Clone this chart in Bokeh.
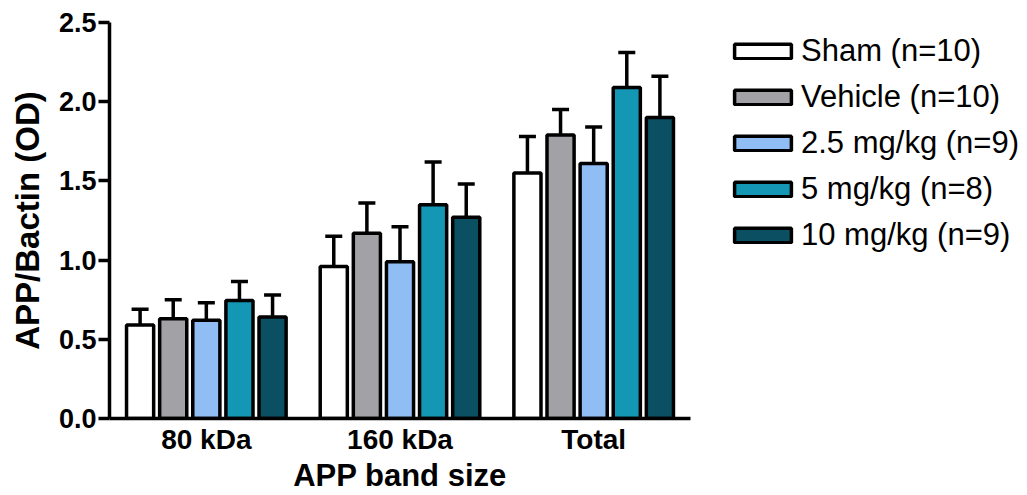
from bokeh.plotting import figure
from bokeh.layouts import row
from bokeh.models import (FactorRange, Range1d, ColumnDataSource, Whisker, TeeHead,
                          Legend, LegendItem, FixedTicker, PrintfTickFormatter)
from bokeh.transform import dodge
from bokeh.embed import file_html
from bokeh.resources import INLINE

categories = ["80 kDa", "160 kDa", "Total"]
groups = ["Sham (n=10)", "Vehicle (n=10)", "2.5 mg/kg (n=9)", "5 mg/kg (n=8)", "10 mg/kg (n=9)"]
sham_mean = [0.59, 0.96, 1.55]
sham_sem = [0.10, 0.19, 0.23]
vehicle_mean = [0.63, 1.17, 1.79]
vehicle_sem = [0.12, 0.19, 0.16]
mg25_mean = [0.62, 0.99, 1.61]
mg25_sem = [0.11, 0.22, 0.23]
mg5_mean = [0.745, 1.35, 2.09]
mg5_sem = [0.12, 0.27, 0.22]
mg10_mean = [0.64, 1.27, 1.90]
mg10_sem = [0.14, 0.21, 0.26]
colors = ["#ffffff", "#a2a2a6", "#8fbdf4", "#1497b4", "#0b4f63"]
y_ticks = [0.0, 0.5, 1.0, 1.5, 2.0, 2.5]

means = [sham_mean, vehicle_mean, mg25_mean, mg5_mean, mg10_mean]
sems = [sham_sem, vehicle_sem, mg25_sem, mg5_sem, mg10_sem]

FONT = "Liberation Sans"
LW = 3.5

p = figure(width=695, height=495, x_range=FactorRange(*categories, range_padding=0),
           y_range=Range1d(0, 2.5), output_backend="svg", toolbar_location=None,
           min_border_left=109, min_border_top=22, min_border_bottom=77, min_border_right=5)
p.x_range.range_padding = 0
p.grid.visible = False
p.outline_line_color = None

# legend-only panel on the right; its renderers are hidden and only feed the legend
pl = figure(width=332, height=495, x_range=FactorRange(*categories), y_range=Range1d(0, 2.5),
            output_backend="svg", toolbar_location=None, x_axis_type=None, y_axis_type=None,
            min_border_left=0, min_border_right=0, min_border_top=0, min_border_bottom=0)
pl.grid.visible = False
pl.outline_line_color = None

step = 0.171
bw = 0.14
items = []
for i, (g, m, s, c) in enumerate(zip(groups, means, sems, colors)):
    off = (i - 2) * step
    src = ColumnDataSource(dict(cat=categories, mean=m, upper=[a + b for a, b in zip(m, s)]))
    w = Whisker(base=dodge("cat", off, range=p.x_range), lower="mean", upper="upper",
                source=src, dimension="height", line_width=LW, line_color="black",
                upper_head=TeeHead(size=17, line_width=LW, line_color="black"), lower_head=None)
    p.add_layout(w)
    p.vbar(x=dodge("cat", off, range=p.x_range), top="mean", width=bw, source=src,
           fill_color=c, line_color="black", line_width=LW)
    lr = pl.vbar(x="cat", top="mean", width=bw, source=src,
                 fill_color=c, line_color="black", line_width=LW, visible=False)
    items.append(LegendItem(label=g, renderers=[lr]))

legend = Legend(items=items, location=(32, 165), glyph_width=71, glyph_height=18,
                label_standoff=3, label_text_font=FONT, label_text_font_size="31px",
                label_text_color="black",
                label_height=36, spacing=10, padding=0, margin=0,
                border_line_color=None, background_fill_alpha=0)
pl.add_layout(legend, "center")

ya = p.yaxis[0]
ya.ticker = FixedTicker(ticks=y_ticks)
ya.formatter = PrintfTickFormatter(format="%.1f")
ya.axis_label = "APP/Bactin (OD)"
ya.axis_label_text_font = FONT
ya.axis_label_text_font_style = "bold"
ya.axis_label_text_font_size = "33px"
ya.axis_label_text_color = "black"
ya.major_label_text_font = FONT
ya.major_label_text_font_style = "bold"
ya.major_label_text_font_size = "27px"
ya.major_label_text_color = "black"
ya.axis_line_width = LW
ya.major_tick_line_width = LW
ya.major_tick_out = 11
ya.major_tick_in = 0
ya.minor_tick_line_color = None
ya.major_label_standoff = 2
ya.axis_label_standoff = 10

xa = p.xaxis[0]
xa.axis_label = "APP band size"
xa.axis_label_text_font = FONT
xa.axis_label_text_font_style = "bold"
xa.axis_label_text_font_size = "31px"
xa.axis_label_text_color = "black"
xa.major_label_text_font = FONT
xa.major_label_text_font_style = "bold"
xa.major_label_text_font_size = "28px"
xa.major_label_text_color = "black"
xa.axis_line_width = LW
xa.major_tick_line_color = None
xa.major_tick_out = 0
xa.major_label_standoff = 5
xa.axis_label_standoff = 0

layout = row(p, pl, spacing=0)
open("out.html", "w").write(file_html(layout, INLINE))
